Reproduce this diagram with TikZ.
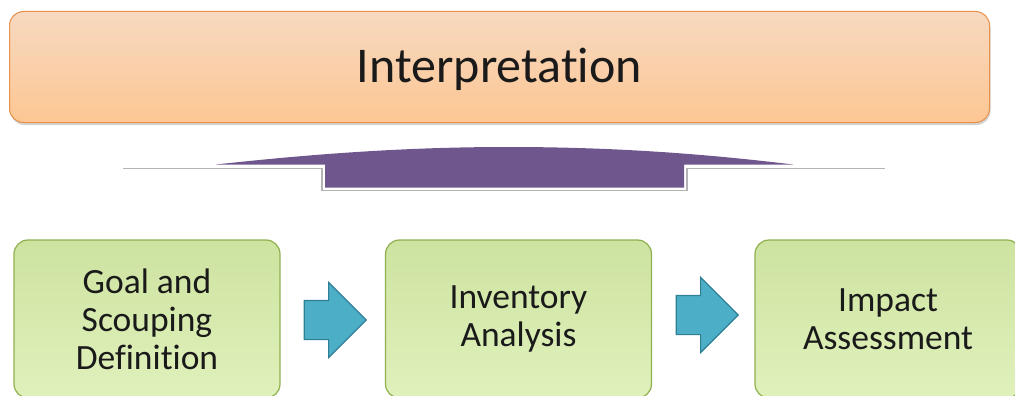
\documentclass[tikz,border=0pt]{standalone}
\usepackage{fontspec}
\setmainfont{Carlito}[Ligatures={NoCommon,NoRare,NoContextual}]
\usetikzlibrary{shapes.arrows,shadows,calc}

\definecolor{peachtop}{HTML}{F6D9C0}
\definecolor{peachbot}{HTML}{FDC693}
\definecolor{peachline}{HTML}{E8914A}
\definecolor{greenfill}{HTML}{CDE3A0}
\definecolor{greenlight}{HTML}{E0F1BC}
\definecolor{greenline}{HTML}{8FB04E}
\definecolor{plum}{HTML}{6F578D}
\definecolor{tealfill}{HTML}{4DAEC7}
\definecolor{tealline}{HTML}{2F7F94}
\definecolor{shelf}{HTML}{B4B4B4}
\definecolor{ink}{HTML}{1A1A1A}

\tikzset{
  phasebox/.style={rounded corners=14pt, draw=peachline, line width=1pt,
    top color=peachtop, bottom color=peachbot,
    drop shadow={opacity=0.35, shadow xshift=1pt, shadow yshift=-2.5pt}},
  stagebox/.style={rounded corners=14pt, draw=greenline, line width=1.2pt,
    top color=greenfill, bottom color=greenlight,
    minimum width=266pt, minimum height=158pt, inner sep=0pt,
    align=center, text=ink, font=\fontsize{35.5}{38}\selectfont},
  flowarrow/.style={shape=single arrow, draw=tealline, fill=tealfill,
    line width=1.2pt, minimum height=62pt, inner xsep=0pt, inner ysep=19pt,
    single arrow head extend=18pt, anchor=tail}
}

\begin{document}
\begin{tikzpicture}[x=1pt,y=-1pt]
\useasboundingbox (0,0) rectangle (1015,396);

% interpretation band
\node[phasebox, minimum width=980pt, minimum height=111pt] (interp) at (499.5,67) {};
\node[anchor=base, text=ink, font=\fontsize{50}{56}\selectfont] (interptxt) at (499.5,82) {Interpretation};

% shelf under the bracket
\draw[white, line width=1pt] (123,166.5) -- (885,166.5);
\draw[shelf, line width=1.3pt] (123,168.5) -- (322,168.5) -- (322,190.5)
  -- (687,190.5) -- (687,168.5) -- (885,168.5);

% purple bracket
\fill[plum] (216,164.5) .. controls (330,152) and (420,147) .. (508,147)
  .. controls (600,147) and (690,152) .. (793,164.5)
  -- (684,164.5) -- (684,187.5) -- (325,187.5) -- (325,164.5) -- cycle;

% stages
\node[stagebox] (goal) at (147,319) {Goal and\\Scouping\\Definition};
\node[stagebox] (inv) at (518.5,319) {Inventory\\Analysis};
\node[stagebox] (impact) at (888,319) {Impact\\Assessment};

% block arrows between stages
\node[flowarrow] (a1) at ($(goal.east)+(23,1)$) {};
\node[flowarrow] (a2) at ($(inv.east)+(23.5,-4)$) {};
\end{tikzpicture}
\end{document}
